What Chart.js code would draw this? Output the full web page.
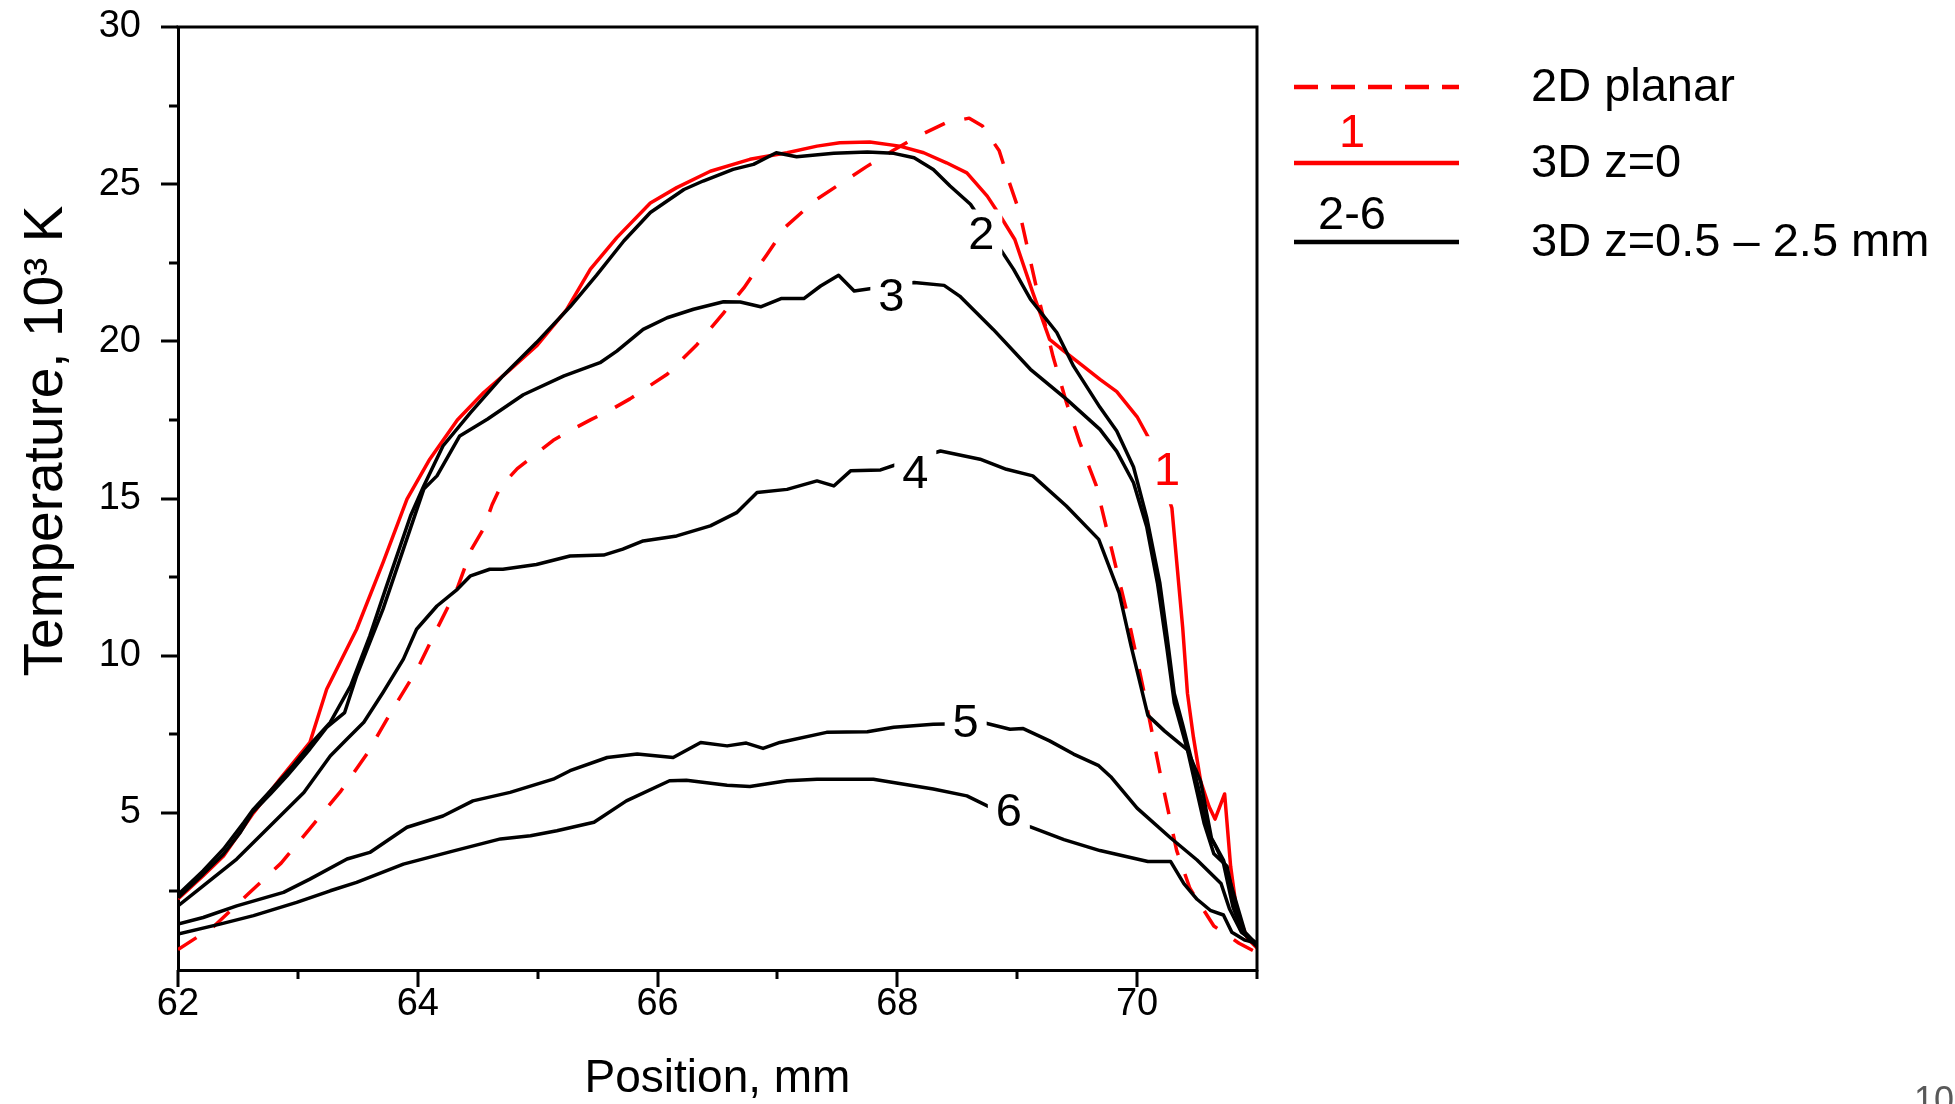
<!DOCTYPE html>
<html>
<head>
<meta charset="utf-8">
<script src="https://cdn.jsdelivr.net/npm/chart.js@4.4.1/dist/chart.umd.min.js"></script>
<style>
  html, body { margin: 0; padding: 0; background: #fff; }
  canvas { display: block; }
</style>
</head>
<body>
<canvas id="tempChart" width="1955" height="1104"></canvas>
<script>
// 2D planar model
const pos2D = [62.0, 62.3, 62.58, 62.86, 63.1, 63.36, 63.58, 63.77, 64.0, 64.16, 64.33, 64.45, 64.55, 64.62, 64.69, 64.83, 64.97, 65.13, 65.27, 65.44, 65.6, 65.77, 65.94, 66.08, 66.33, 66.55, 66.72, 66.91, 67.07, 67.32, 67.52, 67.74, 67.96, 68.16, 68.41, 68.6, 68.71, 68.85, 68.93, 69.02, 69.09, 69.19, 69.3, 69.41, 69.52, 69.66, 69.78, 69.92, 70.06, 70.19, 70.33, 70.44, 70.64, 70.85, 71.0];
const temp2D = [0.65, 1.39, 2.4, 3.4, 4.5, 5.7, 6.9, 8.16, 9.6, 10.85, 12.15, 13.4, 14.05, 14.8, 15.37, 15.95, 16.37, 16.85, 17.16, 17.5, 17.8, 18.17, 18.6, 18.95, 19.9, 20.9, 21.7, 22.75, 23.65, 24.5, 25.0, 25.55, 26.06, 26.5, 26.96, 27.1, 26.85, 26.06, 25.1, 24.1, 22.9, 21.2, 19.5, 18.06, 16.8, 15.4, 13.5, 11.3, 8.8, 6.3, 3.8, 2.6, 1.4, 0.85, 0.55];

// 3D, z = 0 (curve 1)
const pos1 = [62.0, 62.21, 62.38, 62.63, 62.85, 63.1, 63.24, 63.49, 63.71, 63.91, 64.1, 64.33, 64.55, 64.77, 64.99, 65.24, 65.44, 65.66, 65.94, 66.16, 66.44, 66.77, 67.08, 67.33, 67.52, 67.77, 68.02, 68.22, 68.41, 68.58, 68.75, 68.86, 68.98, 69.13, 69.27, 69.39, 69.55, 69.69, 69.83, 70.0, 70.1, 70.29, 70.33, 70.38, 70.42, 70.47, 70.53, 70.6, 70.65, 70.73, 70.78, 70.83, 70.92, 71.0];
const temp1 = [2.26, 3.0, 3.63, 5.0, 6.07, 7.24, 8.93, 10.84, 12.96, 14.98, 16.25, 17.5, 18.37, 19.1, 19.85, 21.0, 22.3, 23.3, 24.4, 24.89, 25.41, 25.79, 26.0, 26.21, 26.32, 26.34, 26.21, 26.0, 25.68, 25.36, 24.62, 23.98, 23.24, 21.55, 20.06, 19.69, 19.21, 18.79, 18.4, 17.6, 16.9, 14.7, 13.0, 10.9, 8.8, 7.4, 6.0, 5.2, 4.8, 5.6, 3.3, 1.9, 1.0, 0.7];

// 3D, z = 0.5 ... 2.5 mm (curves 2-6)
const pos2 = [62.0, 62.21, 62.38, 62.55, 62.63, 62.77, 62.96, 63.13, 63.27, 63.44, 63.6, 63.74, 63.94, 64.05, 64.21, 64.44, 64.71, 64.99, 65.27, 65.49, 65.72, 65.94, 66.22, 66.38, 66.63, 66.8, 66.99, 67.16, 67.47, 67.75, 67.97, 68.14, 68.3, 68.44, 68.61, 68.87, 68.97, 69.11, 69.33, 69.47, 69.69, 69.83, 69.97, 70.08, 70.19, 70.25, 70.31, 70.38, 70.44, 70.53, 70.6, 70.66, 70.72, 70.8, 70.88, 71.0];
const temp2 = [2.4, 3.16, 3.85, 4.7, 5.12, 5.7, 6.5, 7.29, 7.88, 9.04, 10.63, 12.22, 14.45, 15.4, 16.67, 17.73, 18.9, 19.96, 21.1, 22.1, 23.2, 24.1, 24.83, 25.1, 25.47, 25.63, 26.0, 25.87, 25.98, 26.02, 25.98, 25.84, 25.47, 24.94, 24.36, 22.87, 22.29, 21.34, 20.28, 19.21, 17.9, 17.15, 16.0, 14.4, 12.3, 10.6, 8.8, 7.8, 6.9, 5.5, 4.3, 3.9, 3.4, 2.0, 1.2, 0.75];

const pos3 = [62.0, 62.21, 62.38, 62.52, 62.62, 62.77, 62.91, 63.1, 63.24, 63.39, 63.49, 63.6, 63.71, 63.88, 64.05, 64.16, 64.35, 64.58, 64.88, 65.22, 65.52, 65.66, 65.88, 66.08, 66.3, 66.55, 66.69, 66.86, 67.03, 67.22, 67.36, 67.51, 67.64, 67.77, 68.14, 68.39, 68.52, 68.8, 69.11, 69.41, 69.69, 69.83, 69.97, 70.08, 70.17, 70.25, 70.31, 70.42, 70.56, 70.64, 70.75, 70.86, 71.0];
const temp3 = [2.3, 3.05, 3.69, 4.38, 5.01, 5.6, 6.18, 7.03, 7.72, 8.19, 9.36, 10.42, 11.48, 13.39, 15.3, 15.72, 16.99, 17.52, 18.3, 18.9, 19.32, 19.69, 20.38, 20.75, 21.02, 21.26, 21.25, 21.1, 21.36, 21.36, 21.76, 22.1, 21.6, 21.67, 21.87, 21.78, 21.44, 20.38, 19.11, 18.16, 17.2, 16.5, 15.5, 14.1, 12.3, 10.2, 8.5, 7.0, 4.65, 3.7, 3.3, 1.3, 0.76];

const pos4 = [62.0, 62.21, 62.49, 62.77, 63.05, 63.27, 63.41, 63.55, 63.71, 63.88, 63.99, 64.16, 64.33, 64.44, 64.6, 64.71, 64.99, 65.27, 65.55, 65.71, 65.88, 66.16, 66.44, 66.66, 66.83, 67.08, 67.33, 67.47, 67.61, 67.86, 68.0, 68.36, 68.69, 68.91, 69.13, 69.41, 69.68, 69.85, 69.95, 70.09, 70.23, 70.42, 70.53, 70.62, 70.72, 70.8, 70.9, 71.0];
const temp4 = [2.04, 2.68, 3.53, 4.59, 5.65, 6.81, 7.35, 7.88, 8.83, 9.89, 10.84, 11.58, 12.11, 12.54, 12.75, 12.75, 12.9, 13.17, 13.2, 13.39, 13.65, 13.81, 14.13, 14.55, 15.19, 15.29, 15.56, 15.4, 15.88, 15.91, 16.09, 16.51, 16.25, 15.93, 15.72, 14.76, 13.7, 12.0, 10.3, 8.1, 7.6, 7.0, 6.0, 4.2, 3.5, 2.5, 1.2, 0.8];

const pos5 = [62.0, 62.21, 62.49, 62.88, 63.1, 63.41, 63.6, 63.91, 64.21, 64.46, 64.77, 65.13, 65.27, 65.58, 65.83, 66.13, 66.36, 66.58, 66.74, 66.88, 67.02, 67.41, 67.75, 67.97, 68.3, 68.74, 68.94, 69.05, 69.27, 69.47, 69.68, 69.78, 70.0, 70.28, 70.5, 70.7, 70.77, 70.87, 71.0];
const temp5 = [1.46, 1.67, 2.04, 2.47, 2.89, 3.53, 3.74, 4.54, 4.9, 5.38, 5.65, 6.07, 6.34, 6.76, 6.87, 6.76, 7.24, 7.13, 7.22, 7.05, 7.24, 7.56, 7.58, 7.72, 7.82, 7.85, 7.66, 7.68, 7.29, 6.87, 6.5, 6.15, 5.15, 4.2, 3.5, 2.75, 1.95, 1.2, 0.85];

const pos6 = [62.0, 62.35, 62.63, 62.99, 63.27, 63.49, 63.88, 64.3, 64.69, 64.94, 65.16, 65.47, 65.74, 66.1, 66.24, 66.58, 66.77, 67.08, 67.33, 67.8, 68.3, 68.58, 69.11, 69.39, 69.69, 70.09, 70.28, 70.39, 70.5, 70.61, 70.72, 70.79, 70.9, 71.0];
const temp6 = [1.14, 1.46, 1.73, 2.15, 2.52, 2.79, 3.37, 3.79, 4.17, 4.27, 4.43, 4.7, 5.38, 6.02, 6.04, 5.88, 5.84, 6.02, 6.07, 6.07, 5.76, 5.54, 4.55, 4.15, 3.8, 3.45, 3.45, 2.75, 2.25, 1.9, 1.75, 1.2, 0.95, 0.85];

// curve numbers written on the lines
const tagText = ['1', '2', '3', '4', '5', '6'];
const tagPos = [70.25, 68.7, 67.95, 68.15, 68.57, 68.93];
const tagTemp = [15.9, 23.4, 21.44, 15.82, 7.88, 5.07];

const xTickLabels = [62, 64, 66, 68, 70];
const yTickLabels = [5, 10, 15, 20, 25, 30];

const FONT = "'Liberation Sans', Arial, sans-serif";
const RED = '#ff0000';

const toPoints = (xs, ys) => xs.map((x, i) => ({ x: x, y: ys[i] }));

const curve = (xs, ys, color, dash) => ({
    data: toPoints(xs, ys),
    showLine: true,
    borderColor: color,
    borderWidth: 3.5,
    borderDash: dash || [],
    pointRadius: 0,
    tension: 0,
    borderJoinStyle: 'round'
});

// outward tick marks (long at labelled values), frame, y title
const frame = {
    id: 'frame',
    afterDraw(chart) {
        const c = chart.ctx;
        const area = chart.chartArea;
        const xs = chart.scales.x;
        const ys = chart.scales.y;
        c.save();
        c.strokeStyle = '#000';
        c.lineWidth = 3;
        xs.ticks.forEach(t => {
            const px = Math.round(xs.getPixelForValue(t.value));
            const len = xTickLabels.includes(t.value) ? 17 : 9;
            c.beginPath();
            c.moveTo(px, area.bottom);
            c.lineTo(px, area.bottom + len);
            c.stroke();
        });
        ys.ticks.forEach(t => {
            if (t.value === 0) return;
            const py = Math.round(ys.getPixelForValue(t.value));
            const len = yTickLabels.includes(t.value) ? 17 : 9;
            c.beginPath();
            c.moveTo(area.left - len, py);
            c.lineTo(area.left, py);
            c.stroke();
        });
        c.lineCap = 'square';
        c.beginPath();
        c.moveTo(area.left, area.top);
        c.lineTo(area.right, area.top);
        c.lineTo(area.right, area.bottom);
        c.stroke();

        // y axis title sits a little above the middle of the axis
        c.translate(62, 441);
        c.rotate(-Math.PI / 2);
        c.fillStyle = '#000';
        c.font = '55px ' + FONT;
        c.textAlign = 'center';
        c.textBaseline = 'alphabetic';
        c.fillText('Temperature, 10\u00b3 K', 0, 0);
        c.restore();
    }
};

// curve numbers on a white patch that breaks the line
const curveTags = {
    id: 'curveTags',
    afterDatasetsDraw(chart) {
        const c = chart.ctx;
        const xs = chart.scales.x;
        const ys = chart.scales.y;
        c.save();
        c.font = '47px ' + FONT;
        c.textAlign = 'center';
        c.textBaseline = 'middle';
        tagText.forEach((txt, i) => {
            const px = xs.getPixelForValue(tagPos[i]);
            const py = ys.getPixelForValue(tagTemp[i]);
            const h = txt === '1' ? 68 : 50;
            c.fillStyle = '#fff';
            c.fillRect(px - 21, py - h / 2, 42, h);
            c.fillStyle = txt === '1' ? RED : '#000';
            c.fillText(txt, px, py + 2);
        });
        c.restore();
    }
};

// legend block at the right, plus the page number
const sideLegend = {
    id: 'sideLegend',
    afterDraw(chart) {
        const c = chart.ctx;
        const x0 = 1294, x1 = 1459, tx = 1531;
        const rows = [
            { y: 87, color: RED, dash: [24, 13], tag: '', text: '2D planar' },
            { y: 163, color: RED, dash: [], tag: '1', text: '3D z=0' },
            { y: 242, color: '#000', dash: [], tag: '2-6', text: '3D z=0.5 \u2013 2.5 mm' }
        ];
        c.save();
        c.font = '47px ' + FONT;
        c.textBaseline = 'middle';
        rows.forEach(r => {
            c.strokeStyle = r.color;
            c.lineWidth = 4.5;
            c.setLineDash(r.dash);
            c.beginPath();
            c.moveTo(x0, r.y);
            c.lineTo(x1, r.y);
            c.stroke();
            c.setLineDash([]);
            if (r.tag) {
                c.fillStyle = r.color;
                c.textAlign = 'center';
                c.fillText(r.tag, 1352, r.y - (r.tag === '1' ? 29 : 26));
            }
            c.fillStyle = '#000';
            c.textAlign = 'left';
            c.fillText(r.text, tx, r.y + 1);
        });
        c.fillStyle = '#595959';
        c.font = '36px ' + FONT;
        c.textBaseline = 'top';
        c.fillText('10', 1914, 1084);
        c.restore();
    }
};

const ctx = document.getElementById('tempChart').getContext('2d');
new Chart(ctx, {
    type: 'scatter',
    data: {
        datasets: [
            curve(pos2, temp2, '#000'),
            curve(pos3, temp3, '#000'),
            curve(pos4, temp4, '#000'),
            curve(pos5, temp5, '#000'),
            curve(pos6, temp6, '#000'),
            curve(pos1, temp1, RED),
            curve(pos2D, temp2D, RED, [22, 20])
        ]
    },
    options: {
        responsive: false,
        animation: false,
        devicePixelRatio: 1,
        layout: { padding: { top: 27, right: 698, left: 0, bottom: 0 } },
        plugins: {
            legend: { display: false },
            tooltip: { enabled: false }
        },
        scales: {
            x: {
                type: 'linear',
                min: 62,
                max: 71,
                afterFit: (s) => { s.height = 134; },
                ticks: {
                    stepSize: 1,
                    autoSkip: false,
                    maxRotation: 0,
                    padding: -1,
                    color: '#000',
                    font: { family: FONT, size: 38, lineHeight: 1 },
                    callback: (v) => xTickLabels.includes(v) ? String(v) : ''
                },
                grid: { drawOnChartArea: false, drawTicks: true, tickLength: 17, color: 'rgba(0,0,0,0)' },
                border: { display: true, color: '#000', width: 3 },
                title: {
                    display: true,
                    text: 'Position, mm',
                    color: '#000',
                    font: { family: FONT, size: 46, lineHeight: 1 },
                    padding: { top: 0, bottom: 2 }
                }
            },
            y: {
                type: 'linear',
                min: 0,
                max: 30,
                afterFit: (s) => { s.width = 178; },
                ticks: {
                    stepSize: 2.5,
                    autoSkip: false,
                    padding: 6,
                    color: '#000',
                    font: { family: FONT, size: 38, lineHeight: 1 },
                    callback: (v) => yTickLabels.includes(v) ? String(v) : ''
                },
                // the marks themselves are drawn by the frame plugin; this only spaces the labels
                grid: { drawOnChartArea: false, drawTicks: true, tickLength: 31, color: 'rgba(0,0,0,0)' },
                border: { display: true, color: '#000', width: 3 },
                title: { display: false }
            }
        }
    },
    plugins: [frame, curveTags, sideLegend]
});
</script>
</body>
</html>
